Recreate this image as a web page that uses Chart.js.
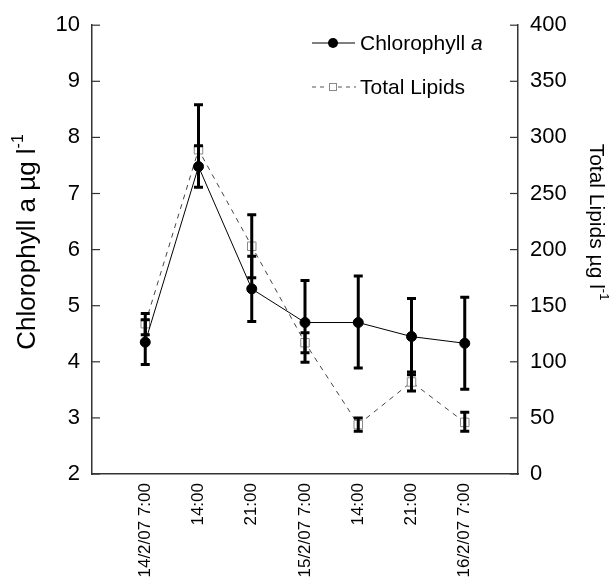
<!DOCTYPE html>
<html>
<head>
<meta charset="utf-8">
<script src="https://cdn.jsdelivr.net/npm/chart.js@4.4.1/dist/chart.umd.min.js"></script>
<style>
  html, body { margin: 0; padding: 0; background: #fff; }
  #wrap { width: 616px; height: 579px; }
</style>
</head>
<body>
<div id="wrap"><canvas id="chart"></canvas></div>
<script>
const labels = ['14/2/07 7:00', '14:00', '21:00', '15/2/07 7:00', '14:00', '21:00', '16/2/07 7:00'];
const chl = [4.35, 7.48, 5.3, 4.7, 4.7, 4.45, 4.33];
const chlLow = [3.95, 7.11, 4.72, 3.99, 3.89, 3.77, 3.51];
const chlHigh = [4.75, 7.85, 5.88, 5.45, 5.53, 5.13, 5.15];
const lipids = [134, 289, 203, 117, 44, 82, 46];
const lipidsLow = [124, 273, 175, 108, 38, 74, 38];
const lipidsHigh = [143, 329, 231, 126, 50, 91, 55];

const FONT = "'Liberation Sans', Arial, sans-serif";

// error bars, drawn over the lines
const errorBars = {
    id: 'errorBars',
    afterDatasetsDraw(c) {
        const ctx = c.ctx, x = c.scales.x;
        const sets = [[c.scales.y, chlLow, chlHigh], [c.scales.y2, lipidsLow, lipidsHigh]];
        ctx.save();
        ctx.strokeStyle = '#000';
        ctx.lineWidth = 3;
        sets.forEach(([s, lo, hi]) => {
            lo.forEach((v, i) => {
                const px = x.getPixelForValue(i + 1);
                const y1 = s.getPixelForValue(v), y2 = s.getPixelForValue(hi[i]);
                ctx.beginPath();
                ctx.moveTo(px, y1); ctx.lineTo(px, y2);
                ctx.moveTo(px - 4.5, y1); ctx.lineTo(px + 4.5, y1);
                ctx.moveTo(px - 4.5, y2); ctx.lineTo(px + 4.5, y2);
                ctx.stroke();
            });
        });
        ctx.restore();
    }
};

// rotated title with a "-1" superscript
function unitTitle(ctx, text, cx, cy, angle, size) {
    ctx.save();
    ctx.translate(cx, cy);
    ctx.rotate(angle);
    ctx.font = size + 'px ' + FONT;
    const w1 = ctx.measureText(text).width;
    ctx.font = Math.round(size * 0.6) + 'px ' + FONT;
    const w2 = ctx.measureText('-1').width;
    let x0 = -(w1 + w2) / 2;
    ctx.fillStyle = '#000';
    ctx.textBaseline = 'middle';
    ctx.font = size + 'px ' + FONT;
    ctx.fillText(text, x0, 0);
    ctx.font = Math.round(size * 0.6) + 'px ' + FONT;
    ctx.fillText('-1', x0 + w1, -size * 0.35);
    ctx.restore();
}

// inward tick marks, axis titles and the legend inside the plot
const extras = {
    id: 'extras',
    afterDraw(c) {
        const ctx = c.ctx, a = c.chartArea;
        ctx.save();
        ctx.strokeStyle = '#333';
        ctx.lineWidth = 1.2;
        c.scales.y.ticks.forEach(t => {
            const py = c.scales.y.getPixelForValue(t.value);
            ctx.beginPath(); ctx.moveTo(a.left, py); ctx.lineTo(a.left + 8, py); ctx.stroke();
        });
        c.scales.y2.ticks.forEach(t => {
            const py = c.scales.y2.getPixelForValue(t.value);
            ctx.beginPath(); ctx.moveTo(a.right - 8, py); ctx.lineTo(a.right, py); ctx.stroke();
        });

        unitTitle(ctx, 'Chlorophyll a µg l', 28, 242, -Math.PI / 2, 26);
        unitTitle(ctx, 'Total Lipids µg l', 596, 222, Math.PI / 2, 21);

        // legend
        ctx.strokeStyle = '#000';
        ctx.lineWidth = 1;
        ctx.beginPath(); ctx.moveTo(312, 43); ctx.lineTo(355, 43); ctx.stroke();
        ctx.fillStyle = '#000';
        ctx.beginPath(); ctx.arc(333, 43, 5, 0, Math.PI * 2); ctx.fill();

        ctx.strokeStyle = '#555';
        ctx.setLineDash([4, 4]);
        ctx.beginPath(); ctx.moveTo(312, 87); ctx.lineTo(328, 87); ctx.moveTo(338, 87); ctx.lineTo(356, 87); ctx.stroke();
        ctx.setLineDash([]);
        ctx.strokeStyle = '#888';
        ctx.strokeRect(329.5, 83.5, 7, 7);

        ctx.fillStyle = '#000';
        ctx.textBaseline = 'middle';
        ctx.font = '21px ' + FONT;
        ctx.fillText('Chlorophyll ', 360, 44);
        const w = ctx.measureText('Chlorophyll ').width;
        ctx.font = 'italic 21px ' + FONT;
        ctx.fillText('a', 360 + w, 44);
        ctx.font = '21px ' + FONT;
        ctx.fillText('Total Lipids', 360, 88);
        ctx.restore();
    }
};

const axisLine = { display: true, color: '#333', width: 1.5 };
const noGrid = { drawOnChartArea: false, drawTicks: false };

new Chart(document.getElementById('chart'), {
    type: 'line',
    data: {
        datasets: [{
            label: 'Chlorophyll a',
            data: chl.map((v, i) => ({ x: i + 1, y: v })),
            yAxisID: 'y',
            borderColor: '#000',
            borderWidth: 1,
            pointRadius: 5,
            pointBackgroundColor: '#000',
            pointBorderColor: '#000',
            tension: 0
        }, {
            label: 'Total Lipids',
            data: lipids.map((v, i) => ({ x: i + 1, y: v })),
            yAxisID: 'y2',
            borderColor: '#444',
            borderWidth: 1,
            borderDash: [5, 5],
            pointStyle: 'rect',
            pointRadius: 6,
            pointBorderWidth: 1,
            pointBackgroundColor: '#fff',
            pointBorderColor: '#888',
            tension: 0
        }]
    },
    options: {
        responsive: true,
        maintainAspectRatio: false,
        animation: false,
        layout: { padding: { top: 23, left: 0, right: 0, bottom: 0 } },
        plugins: { legend: { display: false }, tooltip: { enabled: false } },
        scales: {
            x: {
                type: 'linear',
                min: 0, max: 8,
                grid: noGrid,
                border: axisLine,
                afterFit(s) { s.height = 105; },
                ticks: {
                    stepSize: 1,
                    autoSkip: false,
                    maxRotation: 90,
                    minRotation: 90,
                    padding: 9,
                    color: '#000',
                    font: { family: FONT, size: 17 },
                    callback: v => labels[v - 1] || ''
                }
            },
            y: {
                position: 'left',
                min: 2, max: 10,
                grid: noGrid,
                border: axisLine,
                afterFit(s) { s.width = 92; },
                ticks: { stepSize: 1, padding: 12, color: '#000', font: { family: FONT, size: 22 } }
            },
            y2: {
                position: 'right',
                min: 0, max: 400,
                grid: noGrid,
                border: axisLine,
                afterFit(s) { s.width = 98; },
                ticks: { stepSize: 50, padding: 12, color: '#000', font: { family: FONT, size: 22 } }
            }
        }
    },
    plugins: [errorBars, extras]
});
</script>
</body>
</html>
